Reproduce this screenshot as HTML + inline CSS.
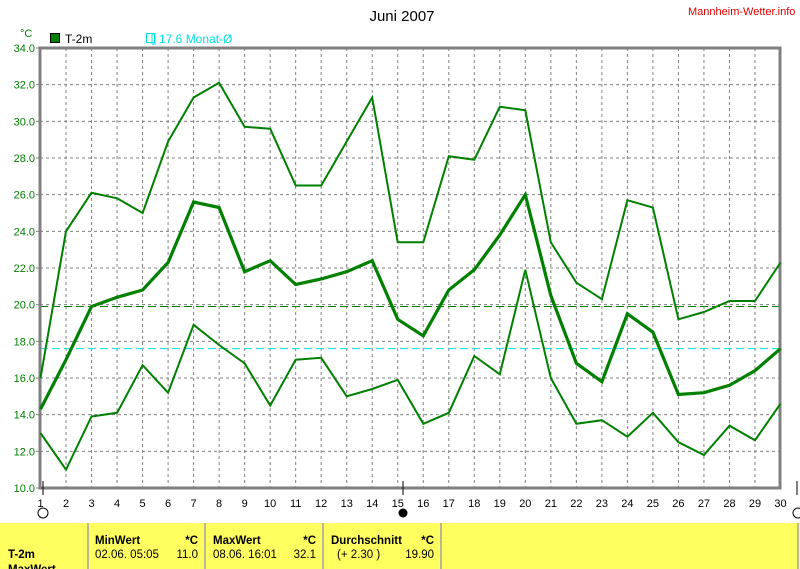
<!DOCTYPE html>
<html><head><meta charset="utf-8"><style>
body{margin:0;width:800px;height:569px;background:#fff;overflow:hidden;font-family:"Liberation Sans",sans-serif}
svg{position:absolute;left:0;top:0}
</style></head><body>
<svg id="s" width="800" height="569" xmlns="http://www.w3.org/2000/svg" font-family="Liberation Sans, sans-serif">
<text x="402" y="21" font-size="15" text-anchor="middle">Juni 2007</text>
<text x="688" y="15" font-size="11" fill="#e00000">Mannheim-Wetter.info</text>
<text x="20" y="37" font-size="11" fill="#008000">°C</text>
<rect x="50.5" y="33.5" width="9" height="9" fill="#008000" stroke="#000"/>
<text x="65" y="43" font-size="12">T-2m</text>
<path d="M152,44 V34 H156 M152,44 H155 V37" stroke="#00e0e0" fill="none"/>
<rect x="146.5" y="33.5" width="8" height="9" fill="none" stroke="#00e0e0"/>
<text x="159" y="43" font-size="12" fill="#00e0e0">17.6 Monat-Ø</text>
<g id="g"></g>
<rect x="0" y="523" width="800" height="46" fill="#ffff60"/>
<g stroke="#a0a0a0" stroke-width="1.5"><line x1="88" y1="523" x2="88" y2="569"/><line x1="205" y1="523" x2="205" y2="569"/><line x1="323" y1="523" x2="323" y2="569"/><line x1="441" y1="523" x2="441" y2="569"/><line x1="798" y1="523" x2="798" y2="569"/></g>
<g font-size="11.5">
<text x="95" y="544" font-weight="bold">MinWert</text><text x="198" y="544" text-anchor="end" font-weight="bold">*C</text>
<text x="95" y="558">02.06.  05:05</text><text x="198" y="558" text-anchor="end">11.0</text>
<text x="213" y="544" font-weight="bold">MaxWert</text><text x="316" y="544" text-anchor="end" font-weight="bold">*C</text>
<text x="213" y="558">08.06.  16:01</text><text x="316" y="558" text-anchor="end">32.1</text>
<text x="331" y="544" font-weight="bold">Durchschnitt</text><text x="434" y="544" text-anchor="end" font-weight="bold">*C</text>
<text x="337" y="558">(+ 2.30 )</text><text x="434" y="558" text-anchor="end">19.90</text>
<text x="8" y="558" font-weight="bold">T-2m</text>
<text x="8" y="573" font-weight="bold">MaxWert</text>
</g>
</svg>
<script>
var g=document.getElementById('g'),h='';
function X(d){return 40.5+(d-1)*25.517}
function Y(v){return 488-(v-10)*18.333}
for(var d=2;d<=30;d++)h+='<line x1="'+X(d)+'" y1="48" x2="'+X(d)+'" y2="488" stroke="#808080" stroke-dasharray="3,3"/>';
for(var v=12;v<=32;v+=2)h+='<line x1="40" y1="'+Y(v)+'" x2="780" y2="'+Y(v)+'" stroke="#808080" stroke-dasharray="3,3"/>';
for(var v=10;v<=34;v+=2){h+='<text x="35" y="'+(Y(v)+4)+'" font-size="11" fill="#008000" text-anchor="end">'+v.toFixed(1)+'</text><line x1="36" y1="'+Y(v)+'" x2="40" y2="'+Y(v)+'" stroke="#808080"/>';}
h+='<line x1="40" y1="'+Y(19.9)+'" x2="780" y2="'+Y(19.9)+'" stroke="#008000" stroke-dasharray="8,4"/>';
h+='<line x1="40" y1="'+Y(17.6)+'" x2="780" y2="'+Y(17.6)+'" stroke="#00e0e0" stroke-dasharray="8,4"/>';
h+='<path d="M40,48 H780 V488 H40 Z" fill="none" stroke="#808080" stroke-width="3"/>';
for(var d=1;d<=30;d++)h+='<text x="'+X(d)+'" y="507" font-size="11" text-anchor="middle">'+d+'</text>';
h+='<line x1="43" y1="481" x2="43" y2="495" stroke="#000"/><line x1="403" y1="481" x2="403" y2="495" stroke="#000"/><line x1="797" y1="481" x2="797" y2="495" stroke="#000"/>';
h+='<circle cx="43" cy="513" r="5" fill="#fff" stroke="#000"/><circle cx="403" cy="513" r="4.5" fill="#000"/><circle cx="798" cy="513" r="5" fill="#fff" stroke="#000"/>';
var mx=[16.0,24.0,26.1,25.8,25.0,28.9,31.3,32.1,29.7,29.6,26.5,26.5,28.9,31.3,23.4,23.4,28.1,27.9,30.8,30.6,23.4,21.2,20.3,25.7,25.3,19.2,19.6,20.2,20.2,22.3];
var mn=[14.3,17.0,19.9,20.4,20.8,22.3,25.6,25.3,21.8,22.4,21.1,21.4,21.8,22.4,19.2,18.3,20.8,21.9,23.8,26.0,20.5,16.8,15.8,19.5,18.5,15.1,15.2,15.6,16.4,17.6];
var mi=[13.0,11.0,13.9,14.1,16.7,15.2,18.9,17.8,16.8,14.5,17.0,17.1,15.0,15.4,15.9,13.5,14.1,17.2,16.2,21.9,16.0,13.5,13.7,12.8,14.1,12.5,11.8,13.4,12.6,14.6];
function pl(a,w){var p=a.map(function(v,i){return X(i+1).toFixed(1)+','+Y(v).toFixed(1)}).join(' ');return '<polyline points="'+p+'" fill="none" stroke="#008000" stroke-width="'+w+'"/>';}
h+=pl(mx,2)+pl(mn,3.2)+pl(mi,2);
g.innerHTML=h;
</script>
</body></html>
